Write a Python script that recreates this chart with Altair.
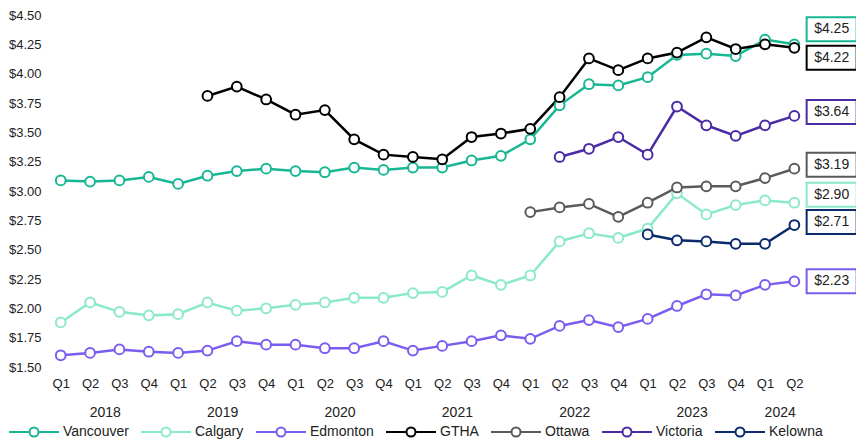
import json
import altair as alt
import pandas as pd

# ---------------- data ----------------
QUARTERS = ["Q1", "Q2", "Q3", "Q4"] * 6 + ["Q1", "Q2"]
YEARS = [2018] * 4 + [2019] * 4 + [2020] * 4 + [2021] * 4 + [2022] * 4 + [2023] * 4 + [2024] * 2

CITIES = ["Vancouver", "Calgary", "Edmonton", "GTHA", "Ottawa", "Victoria", "Kelowna"]
COLORS = ["#17b794", "#8be9c9", "#7b5cf0", "#000000", "#5a5a5a", "#4b2aa5", "#0b2a6b"]

N = None
VANCOUVER = [3.09, 3.08, 3.09, 3.12, 3.06, 3.13, 3.17, 3.19, 3.17, 3.16, 3.20, 3.18,
             3.20, 3.20, 3.26, 3.30, 3.44, 3.73, 3.91, 3.90, 3.97, 4.16, 4.17, 4.15,
             4.29, 4.25]
CALGARY = [1.88, 2.05, 1.97, 1.94, 1.95, 2.05, 1.98, 2.00, 2.03, 2.05, 2.09, 2.09,
           2.13, 2.14, 2.28, 2.20, 2.28, 2.57, 2.64, 2.60, 2.68, 2.98, 2.80, 2.88,
           2.92, 2.90]
EDMONTON = [1.60, 1.62, 1.65, 1.63, 1.62, 1.64, 1.72, 1.69, 1.69, 1.66, 1.66, 1.72,
            1.64, 1.68, 1.72, 1.77, 1.74, 1.85, 1.90, 1.84, 1.91, 2.02, 2.12, 2.11,
            2.20, 2.23]
GTHA = [N, N, N, N, N, 3.81, 3.89, 3.78, 3.65, 3.69, 3.44, 3.31,
        3.29, 3.27, 3.46, 3.49, 3.53, 3.80, 4.13, 4.03, 4.13, 4.18, 4.31, 4.21,
        4.25, 4.22]
OTTAWA = [N] * 16 + [2.82, 2.86, 2.89, 2.78, 2.90, 3.03, 3.04, 3.04, 3.11, 3.19]
VICTORIA = [N] * 17 + [3.29, 3.36, 3.46, 3.31, 3.72, 3.56, 3.47, 3.56, 3.64]
KELOWNA = [N] * 20 + [2.63, 2.58, 2.57, 2.55, 2.55, 2.71]

SERIES = dict(zip(CITIES, [VANCOUVER, CALGARY, EDMONTON, GTHA, OTTAWA, VICTORIA, KELOWNA]))

# ---------------- style / layout ----------------
FONT = "Liberation Sans"
WIDTH, HEIGHT = 807, 352
Y_MIN, Y_MAX = 1.5, 4.5
X_DOMAIN = [-0.4, 27.1]
LABEL_X = 26.27
PX_PER_DOLLAR = HEIGHT / (Y_MAX - Y_MIN)
# vertical nudge (pixels, + = down) of end labels to avoid overlaps
LABEL_NUDGE_PX = {"Vancouver": -15, "GTHA": 10, "Victoria": -4, "Ottawa": -4,
                  "Calgary": -8, "Kelowna": -3, "Edmonton": 0}

rows = []
for city, vals in SERIES.items():
    for i, v in enumerate(vals):
        if v is not None:
            rows.append({"idx": i, "quarter": QUARTERS[i], "year": YEARS[i], "city": city, "value": v})
df = pd.DataFrame(rows)

lab_rows = []
for city, vals in SERIES.items():
    last = [v for v in vals if v is not None][-1]
    lab_rows.append({"city": city, "value": last, "label": f"${last:.2f}",
                     "label_y": last - LABEL_NUDGE_PX[city] / PX_PER_DOLLAR,
                     "lx": LABEL_X})
labels = pd.DataFrame(lab_rows)

year_list = sorted(set(YEARS))
year_df = pd.DataFrame({
    "year": [str(y) for y in year_list],
    "mid": [sum(i for i, yy in enumerate(YEARS) if yy == y) / YEARS.count(y) for y in year_list],
})

x_scale = alt.Scale(domain=X_DOMAIN, nice=False, zero=False)
y_scale = alt.Scale(domain=[Y_MIN, Y_MAX], nice=False, zero=False)

x_axis = alt.Axis(values=list(range(len(QUARTERS))),
                  labelExpr=f"{json.dumps(QUARTERS)}[datum.value]",
                  domain=False, ticks=False, grid=False, title=None,
                  labelFontSize=13, labelPadding=10, labelOverlap=False,
                  labelFlush=False, labelColor="#222", labelFont=FONT)
y_axis = alt.Axis(values=[1.5 + 0.25 * k for k in range(13)], format="$.2f",
                  domain=False, ticks=False, grid=False, title=None,
                  labelFontSize=13, labelPadding=8, labelColor="#222",
                  labelFont=FONT, labelFlush=False, labelOverlap=False)

SYMBOL = ("M-1,0H-0.18M0.18,0H1M-0.18,0A0.18,0.18 0 1,1 0.18,0"
          "A0.18,0.18 0 1,1 -0.18,0Z")
legend = alt.Legend(orient="none", legendX=-41, legendY=391, direction="horizontal",
                    columns=7, gridAlign="none", title=None, symbolType=SYMBOL,
                    symbolSize=2500, symbolStrokeWidth=2, symbolFillColor="white",
                    labelFontSize=14, labelFont=FONT, labelColor="#222", labelOffset=3,
                    columnPadding=8)

stroke = alt.Stroke("city:N", scale=alt.Scale(domain=CITIES, range=COLORS), legend=legend)

X = alt.X("idx:Q", scale=x_scale, axis=x_axis)
Y = alt.Y("value:Q", scale=y_scale, axis=y_axis)

lines = alt.Chart(df).mark_line(strokeWidth=2.5).encode(x=X, y=Y, stroke=stroke, detail="city:N")
points = alt.Chart(df).mark_point(filled=True, fill="white", size=95, strokeWidth=2,
                                  opacity=1).encode(x=X, y=Y, stroke=stroke)

LX = alt.X("lx:Q", scale=x_scale, axis=x_axis)
LY = alt.Y("label_y:Q", scale=y_scale, axis=y_axis)
boxes = alt.Chart(labels).mark_point(shape="M-1,-0.48L1,-0.48L1,0.48L-1,0.48Z", size=2500,
                                     filled=True, fill="white", strokeWidth=2,
                                     opacity=1).encode(x=LX, y=LY, stroke=stroke)
texts = alt.Chart(labels).mark_text(fontSize=14, font=FONT, color="#222", align="center",
                                    baseline="middle").encode(x=LX, y=LY, text="label:N")

main = alt.layer(lines, points, boxes, texts)

year_axis_layer = alt.Chart(year_df).mark_point(opacity=0).encode(
    x=alt.X("mid:Q", scale=x_scale,
            axis=alt.Axis(orient="bottom", offset=28, values=year_df["mid"].tolist(),
                          labelExpr="floor(datum.value / 4) + 2018",
                          domain=False, ticks=False, grid=False, title=None,
                          labelFontSize=14, labelPadding=10, labelColor="#222",
                          labelFont=FONT, labelOverlap=False, labelFlush=False)),
)

chart = alt.layer(main, year_axis_layer).resolve_scale(x="independent").properties(
    width=WIDTH, height=HEIGHT,
    autosize=alt.AutoSizeParams(type="none"),
    padding={"left": 41, "top": 7, "right": 0, "bottom": 72},
).configure_view(stroke=None)

chart.save("out.html", embed_options={"renderer": "svg", "actions": False})
